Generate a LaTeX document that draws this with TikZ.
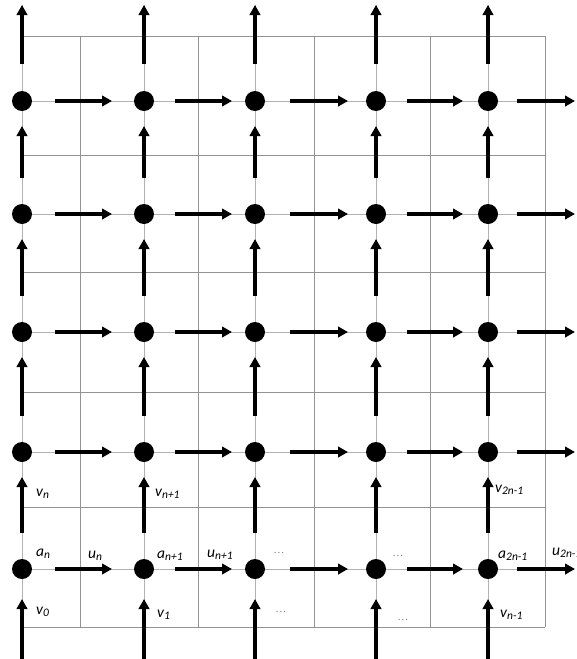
\documentclass[tikz,border=0pt]{standalone}
\usepackage{fontspec}
\setmainfont{Carlito}
\usetikzlibrary{arrows.meta}
\newcommand\lsub[1]{\raisebox{-2pt}{\fontsize{11.5}{12}\selectfont #1}}
\begin{document}
\begin{tikzpicture}[x=1pt,y=-1pt,
  gridline/.style={draw=gray!85,line width=0.8pt},
  nodeline/.style={draw=gray!60,line width=0.9pt},
  dot/.style={circle,fill=black,minimum size=20pt,inner sep=0pt},
  arr/.style={line width=3.6pt,-{Triangle[length=10pt,width=10.5pt]}},
  lbl/.style={anchor=base west,inner sep=0pt,font=\fontsize{15.5}{16}\selectfont\itshape},
  dots/.style={anchor=base west,inner sep=0pt,text=gray,font=\fontsize{9}{9}\selectfont}]
\useasboundingbox (0,0) rectangle (576,659);
% grid
\foreach \y in {36,155,272,392,507,627}
  \draw[gridline] (22,\y) -- (545,\y);
\foreach \x in {80,198,314,430,545}
  \draw[gridline] (\x,36) -- (\x,627);
% node coordinates and free ends
\foreach \i/\x in {1/22,2/144,3/255,4/376,5/488}{
  \coordinate (top-\i) at (\x,5);
  \coordinate (bot-\i) at (\x,662);
  \foreach \j/\y in {1/101,2/214,3/332,4/452,5/569}
    \coordinate (p-\i-\j) at (\x,\y);
}
\foreach \j/\y in {1/101,2/214,3/332,4/452,5/569}
  \coordinate (right-\j) at (575,\y);
% thin lines through nodes
\foreach \i in {1,...,5}
  \draw[nodeline] (top-\i) -- (bot-\i);
\foreach \j/\y in {1/101,2/214,3/332,4/452,5/569}
  \draw[nodeline] (p-1-\j) -- (545,\y);
% nodes
\foreach \i in {1,...,5}
  \foreach \j in {1,...,5}
    \node[dot] (n-\i-\j) at (p-\i-\j) {};
% horizontal arrows
\foreach \j in {1,...,5}{
  \foreach \a/\b/\s/\e in {1/2/33/32,2/3/31/23,3/4/35/28,4/5/31/25}
    \draw[arr,shorten <=\s pt,shorten >=\e pt] (n-\a-\j.center) -- (n-\b-\j.center);
  \draw[arr,shorten <=29pt] (n-5-\j.center) -- (right-\j);
}
% vertical arrows
\foreach \i in {1,...,5}{
  \foreach \j/\k in {2/1,3/2,4/3,5/4}
    \draw[arr,shorten <=36pt,shorten >=25pt] (n-\i-\j.center) -- (n-\i-\k.center);
  \draw[arr,shorten <=37pt] (n-\i-1.center) -- (top-\i);
  \draw[arr,shorten >=30pt] (bot-\i) -- (n-\i-5.center);
}
% labels
\node[lbl] (lvn) at (36,496) {v\lsub{n}};
\node[lbl] (lvn1) at (155,496) {v\lsub{n+1}};
\node[lbl] (lv2n) at (495,492) {v\lsub{2n-1}};
\node[lbl] (lan) at (36,556) {a\lsub{n}};
\node[lbl] (lun) at (88,558) {u\lsub{n}};
\node[lbl] (lan1) at (157,558) {a\lsub{n+1}};
\node[lbl] (lun1) at (207,557) {u\lsub{n+1}};
\node[lbl] (la2n) at (498,558) {a\lsub{2n-1}};
\node[lbl] (lu2n) at (552,555) {u\lsub{2n-1}};
\node[lbl] (lv0) at (36,614) {v\lsub{0}};
\node[lbl] (lv1) at (157,617) {v\lsub{1}};
\node[lbl] (lvn-1) at (500,617) {v\lsub{n-1}};
\node[dots] (d1) at (274,555) {·\,·\,·};
\node[dots] (d2) at (276,614) {·\,·\,·};
\node[dots] (d3) at (393,558) {·\,·\,·};
\node[dots] (d4) at (398,622) {·\,·\,·};
\end{tikzpicture}
\end{document}
